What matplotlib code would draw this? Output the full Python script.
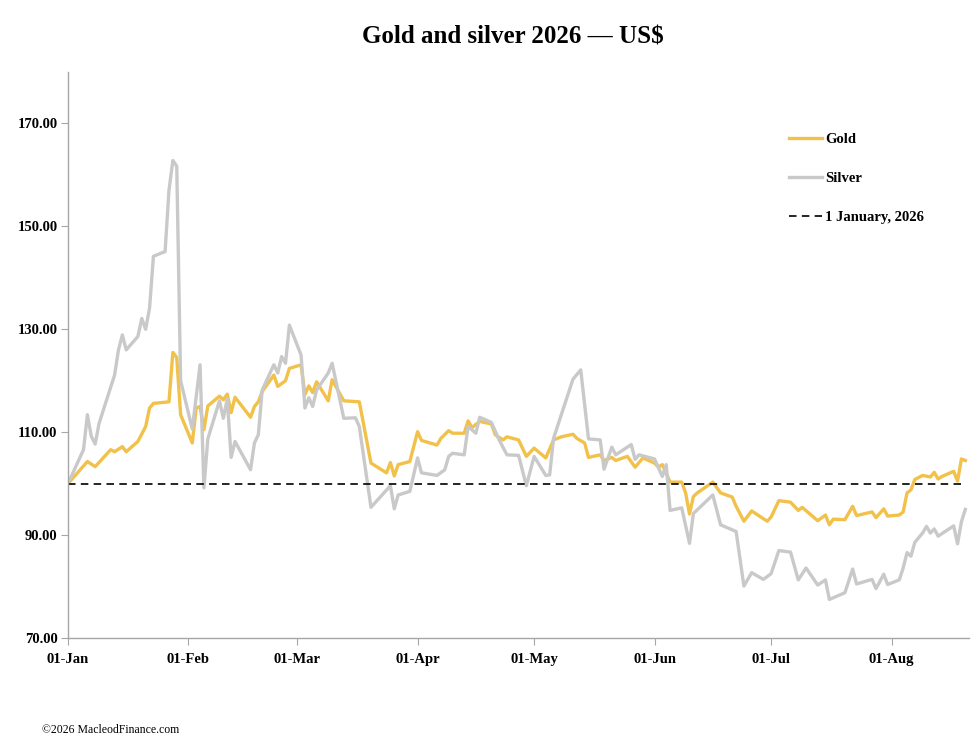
import matplotlib
matplotlib.use("Agg")
import matplotlib.pyplot as plt
import matplotlib.dates as mdates
import pandas as pd

# rebased to 100 on 1 January 2026
gold_dates = ['01-01', '01-06', '01-08', '01-12', '01-13', '01-15', '01-16', '01-19', '01-21', '01-22',
              '01-23', '01-27', '01-28', '01-29', '01-30', '02-02', '02-03', '02-04', '02-05', '02-06',
              '02-09', '02-10', '02-11', '02-12', '02-13', '02-17', '02-18', '02-19', '02-20', '02-23',
              '02-24', '02-26', '02-27', '03-02', '03-03', '03-04', '03-05', '03-06', '03-09', '03-10',
              '03-13', '03-17', '03-20', '03-24', '03-25', '03-26', '03-27', '03-30', '04-01', '04-02',
              '04-06', '04-07', '04-09', '04-10', '04-13', '04-14', '04-15', '04-17', '04-20', '04-21',
              '04-23', '04-24', '04-27', '04-29', '05-01', '05-04', '05-06', '05-08', '05-11', '05-12',
              '05-14', '05-15', '05-18', '05-19', '05-21', '05-22', '05-25', '05-27', '05-29', '06-01',
              '06-02', '06-03', '06-05', '06-08', '06-09', '06-10', '06-11', '06-12', '06-16', '06-18',
              '06-21', '06-22', '06-24', '06-26', '06-30', '07-01', '07-03', '07-06', '07-08', '07-09',
              '07-13', '07-15', '07-16', '07-17', '07-20', '07-22', '07-23', '07-27', '07-28', '07-30',
              '07-31', '08-03', '08-04', '08-05', '08-06', '08-07', '08-09', '08-11', '08-12', '08-13',
              '08-14', '08-17', '08-18', '08-19', '08-20']
gold_values = [100.0, 104.3, 103.3, 106.6, 106.2, 107.2, 106.2, 108.2, 111.1, 114.7,
               115.6, 115.9, 125.5, 124.5, 113.4, 107.9, 114.7, 115.0, 110.5, 115.1,
               117.0, 116.3, 117.4, 113.8, 116.8, 112.9, 115.0, 115.9, 117.9, 121.1,
               118.9, 120.0, 122.4, 123.1, 117.3, 119.0, 117.7, 119.8, 116.1, 120.2,
               116.1, 115.9, 104.0, 102.1, 104.1, 101.5, 103.7, 104.3, 110.1, 108.4,
               107.5, 108.8, 110.3, 109.8, 109.8, 112.2, 110.9, 112.1, 111.6, 109.5,
               108.5, 109.1, 108.5, 105.3, 106.9, 105.0, 108.5, 109.1, 109.6, 108.8,
               107.9, 105.1, 105.6, 104.5, 105.1, 104.5, 105.3, 103.2, 105.0, 104.0,
               103.2, 103.7, 100.3, 100.3, 98.2, 94.1, 97.5, 98.2, 100.3, 98.2,
               97.4, 95.6, 92.7, 94.7, 92.7, 93.5, 96.7, 96.4, 94.8, 95.4,
               92.8, 93.9, 92.0, 93.1, 93.0, 95.6, 93.8, 94.5, 93.4, 95.1,
               93.7, 93.9, 94.5, 98.2, 98.8, 100.8, 101.6, 101.3, 102.2, 100.9,
               101.4, 102.4, 100.5, 104.8, 104.5]

silver_dates = ['01-01', '01-05', '01-06', '01-07', '01-08', '01-09', '01-13', '01-14', '01-15', '01-16',
                '01-19', '01-20', '01-21', '01-22', '01-23', '01-26', '01-27', '01-28', '01-29', '01-30',
                '02-02', '02-04', '02-05', '02-06', '02-09', '02-10', '02-11', '02-12', '02-13', '02-17',
                '02-18', '02-19', '02-20', '02-23', '02-24', '02-25', '02-26', '02-27', '03-02', '03-03',
                '03-04', '03-05', '03-06', '03-09', '03-10', '03-13', '03-16', '03-17', '03-20', '03-25',
                '03-26', '03-27', '03-30', '04-01', '04-02', '04-06', '04-08', '04-09', '04-10', '04-13',
                '04-14', '04-16', '04-17', '04-20', '04-22', '04-24', '04-27', '04-29', '05-01', '05-04',
                '05-05', '05-06', '05-11', '05-13', '05-15', '05-18', '05-19', '05-21', '05-22', '05-26',
                '05-27', '05-28', '06-01', '06-03', '06-04', '06-05', '06-08', '06-10', '06-11', '06-16',
                '06-18', '06-22', '06-24', '06-26', '06-29', '07-01', '07-03', '07-06', '07-08', '07-10',
                '07-13', '07-15', '07-16', '07-20', '07-22', '07-23', '07-27', '07-28', '07-30', '07-31',
                '08-03', '08-04', '08-05', '08-06', '08-07', '08-09', '08-10', '08-11', '08-12', '08-13',
                '08-17', '08-18', '08-19', '08-20']
silver_values = [100.0, 106.6, 113.4, 109.2, 107.7, 111.7, 121.1, 126.0, 128.9, 126.0,
                 128.6, 132.1, 130.0, 134.1, 144.2, 145.1, 157.0, 162.8, 161.7, 120.0,
                 110.6, 123.1, 99.2, 108.7, 116.1, 112.7, 116.5, 105.1, 108.2, 102.7,
                 107.9, 109.5, 118.2, 123.1, 121.5, 124.7, 123.4, 130.8, 125.0, 114.7,
                 116.7, 115.0, 118.2, 121.5, 123.4, 112.7, 112.8, 111.1, 95.4, 99.6,
                 95.1, 97.8, 98.5, 105.0, 102.1, 101.6, 102.7, 105.3, 105.9, 105.6,
                 111.1, 109.8, 112.9, 111.9, 108.5, 105.6, 105.5, 99.6, 105.3, 101.6,
                 101.7, 108.8, 120.3, 122.1, 108.7, 108.5, 102.8, 107.1, 105.6, 107.6,
                 104.7, 105.6, 104.8, 101.4, 103.7, 94.8, 95.3, 88.4, 94.2, 97.8,
                 92.0, 90.7, 80.1, 82.7, 81.4, 82.5, 87.0, 86.7, 81.3, 83.6,
                 80.3, 81.3, 77.5, 78.8, 83.4, 80.5, 81.4, 79.6, 82.4, 80.4,
                 81.3, 83.6, 86.6, 85.9, 88.6, 90.4, 91.7, 90.4, 91.2, 89.8,
                 91.8, 88.3, 92.6, 95.0]

base_level = 100
y_ticks = [70, 90, 110, 130, 150, 170]
year = 2026


def to_dates(days):
    return pd.to_datetime([f"{year}-{d}" for d in days])


plt.rcParams['font.family'] = ['Liberation Serif', 'DejaVu Serif']

gold_x = to_dates(gold_dates)
silver_x = to_dates(silver_dates)

fig = plt.figure(figsize=(9.78, 7.5), dpi=100)
ax = fig.add_axes([0.0695, 0.1493, 0.9215, 0.7547])

ax.plot(gold_x, gold_values, color='#F2C14A', lw=2.4, label='Gold', solid_joinstyle='round')
ax.plot(silver_x, silver_values, color='#C9C9C9', lw=2.4, label='Silver', solid_joinstyle='round')
ax.plot([gold_x[0], gold_x[-1]], [base_level, base_level], color='black', lw=1.2,
        dashes=(4.5, 3.2), label='1 January, 2026')

ax.set_xlim(pd.Timestamp(f"{year}-01-01"), pd.Timestamp(f"{year}-08-21"))
ax.set_ylim(70, 180)
ax.set_yticks(y_ticks)
ax.yaxis.set_major_formatter(plt.FuncFormatter(lambda v, p: f"{v:.2f}"))
ax.xaxis.set_major_locator(mdates.MonthLocator())
ax.xaxis.set_major_formatter(mdates.DateFormatter('%d-%b'))

for side in ['top', 'right']:
    ax.spines[side].set_visible(False)
for side in ['left', 'bottom']:
    ax.spines[side].set_color('#A6A6A6')
    ax.spines[side].set_linewidth(1.0)
ax.tick_params(axis='both', direction='out', length=5, color='#A6A6A6', labelsize=10.5)
ax.tick_params(axis='x', pad=6)
ax.tick_params(axis='y', pad=2.5)
for lab in ax.get_xticklabels() + ax.get_yticklabels():
    lab.set_fontweight('bold')

ax.legend(loc='upper left', bbox_to_anchor=(0.786, 0.915), frameon=False,
          prop={'weight': 'bold', 'size': 10.5}, handlelength=2.2, handletextpad=0.25,
          labelspacing=1.75)

fig.text(0.5245, 0.951, 'Gold and silver 2026 \u2014 US$', ha='center', va='center',
         fontsize=18, fontweight='bold')
fig.text(0.043, 0.027, '\u00a92026 MacleodFinance.com', ha='left', va='center', fontsize=8.5)

fig.savefig('out.png', dpi=100)
